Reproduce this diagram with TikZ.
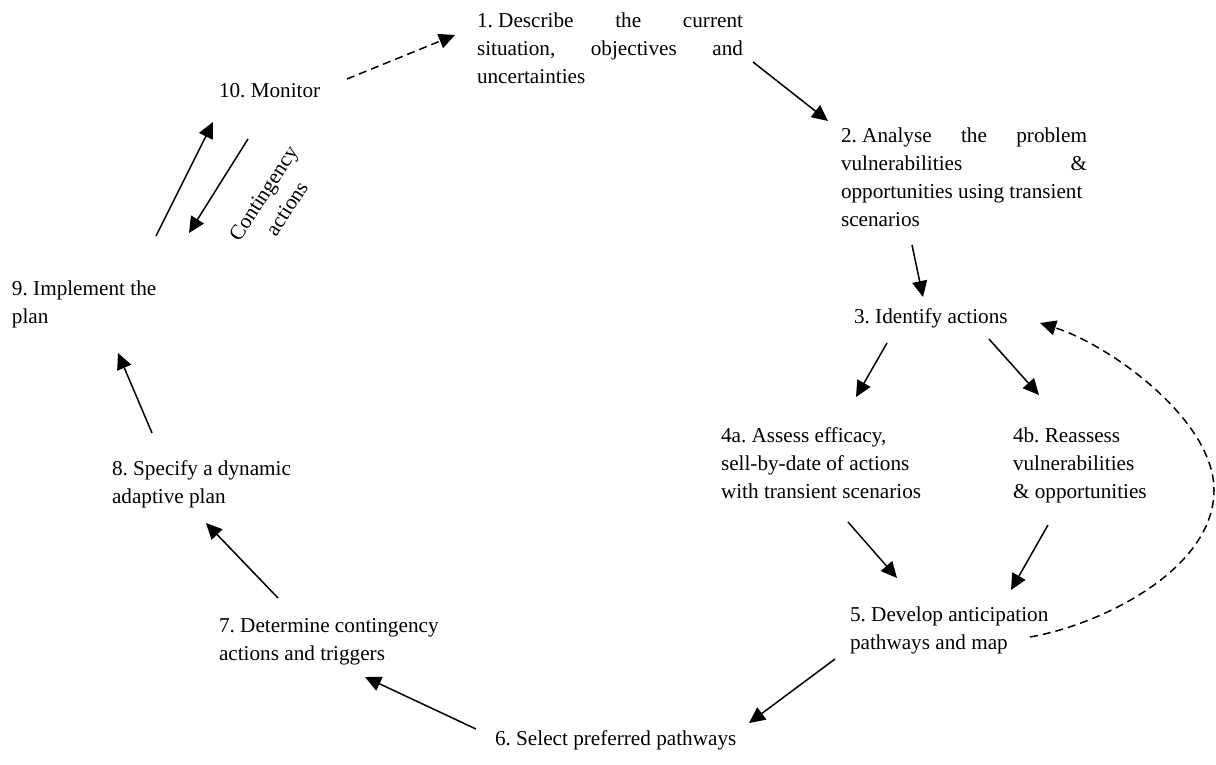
\documentclass[tikz,border=0pt]{standalone}
\usepackage{fontspec}
\setmainfont{Liberation Serif}
\usetikzlibrary{arrows.meta}
\frenchspacing
\newcommand\jl[1]{\hbox to \linewidth{#1}}
\newcommand\blk[2]{\parbox[t]{#1}{#2}}
\begin{document}
\begin{tikzpicture}[x=1pt,y=-1pt,
  lbl/.style={inner sep=0pt,outer sep=0pt,anchor=base west,font=\fontsize{21.2}{28}\selectfont},
  arr/.style={line width=1.5pt,-{Triangle[length=16pt,width=15pt]}},
  darr/.style={arr,dash pattern=on 8pt off 5pt}]
\useasboundingbox (0,0) rectangle (1216,764);
% nodes
\node[lbl] (n1) at (477,27) {\blk{266pt}{\jl{1.\ Describe\hfill the\hfill current}\jl{situation,\hfill objectives\hfill and}\jl{uncertainties\hfill}}};
\node[lbl] (n2) at (841,142) {\blk{246pt}{\jl{2.\ Analyse\hfill the\hfill problem}\jl{vulnerabilities\hfill \&}\jl{opportunities using transient\hfill}\jl{scenarios\hfill}}};
\node[lbl] (n3) at (854,323) {3. Identify actions};
\node[lbl] (n4a) at (721,442) {\blk{230pt}{\jl{4a. Assess efficacy,\hfill}\jl{sell-by-date of actions\hfill}\jl{with transient scenarios\hfill}}};
\node[lbl] (n4b) at (1013,442) {\blk{180pt}{\jl{4b. Reassess\hfill}\jl{vulnerabilities\hfill}\jl{\& opportunities\hfill}}};
\node[lbl] (n5) at (850,621) {\blk{230pt}{\jl{5. Develop anticipation\hfill}\jl{pathways and map\hfill}}};
\node[lbl] (n6) at (495,745) {6. Select preferred pathways};
\node[lbl] (n7) at (219,632) {\blk{260pt}{\jl{7. Determine contingency\hfill}\jl{actions and triggers\hfill}}};
\node[lbl] (n8) at (112,475) {\blk{220pt}{\jl{8. Specify a dynamic\hfill}\jl{adaptive plan\hfill}}};
\node[lbl] (n9) at (12,295) {\blk{180pt}{\jl{9. Implement the\hfill}\jl{plan\hfill}}};
\node[lbl] (n10) at (219,97) {10. Monitor};
\node[inner sep=0pt,rotate=57,align=center,font=\fontsize{21.2}{28}\selectfont] (cont) at (275,201) {Contingency\\actions};
% connector end points
\coordinate (a10s) at (347,79);   \coordinate (a10e) at (455,35);
\coordinate (a1s) at (753,62);    \coordinate (a1e) at (828,121);
\coordinate (a2s) at (912,245);   \coordinate (a2e) at (923,297);
\coordinate (a3as) at (887,343);  \coordinate (a3ae) at (856,397);
\coordinate (a3bs) at (989,339);  \coordinate (a3be) at (1039,395);
\coordinate (a4as) at (848,522);  \coordinate (a4ae) at (897,578);
\coordinate (a4bs) at (1048,525); \coordinate (a4be) at (1011,590);
\coordinate (a5s) at (835,659);   \coordinate (a5e) at (749,723);
\coordinate (a6s) at (476,729);   \coordinate (a6e) at (365,677);
\coordinate (a7s) at (278,598);   \coordinate (a7e) at (206,523);
\coordinate (a8s) at (152,433);   \coordinate (a8e) at (118,353);
\coordinate (a9s) at (156,236);   \coordinate (a9e) at (213,122);
\coordinate (acs) at (248,139);   \coordinate (ace) at (189,233);
\coordinate (d5) at (1030,637);   \coordinate (dm) at (1214,490);
\coordinate (d3) at (1040,323);
% connectors
\draw[darr] (a10s) -- (a10e);
\draw[arr] (a1s) -- (a1e);
\draw[arr] (a2s) -- (a2e);
\draw[arr] (a3as) -- (a3ae);
\draw[arr] (a3bs) -- (a3be);
\draw[arr] (a4as) -- (a4ae);
\draw[arr] (a4bs) -- (a4be);
\draw[arr] (a5s) -- (a5e);
\draw[arr] (a6s) -- (a6e);
\draw[arr] (a7s) -- (a7e);
\draw[arr] (a8s) -- (a8e);
\draw[arr] (a9s) -- (a9e);
\draw[arr] (acs) -- (ace);
\draw[darr] (d5) .. controls (1100,625) and (1214,570) .. (dm) .. controls (1214,420) and (1110,345) .. (d3);
\end{tikzpicture}
\end{document}
